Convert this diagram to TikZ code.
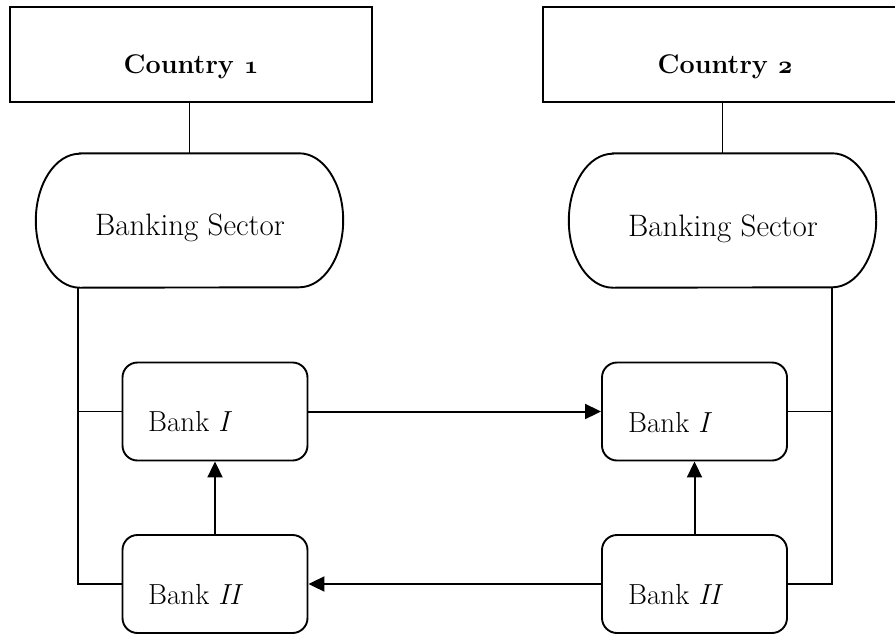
\documentclass[tikz,border=0pt]{standalone}
\usetikzlibrary{arrows.meta}
\newcommand{\osnum}[1]{{\usefont{OML}{cmm}{b}{it}#1}}
\begin{document}
\begin{tikzpicture}[x=1pt,y=-1pt,
  country/.style={draw,line width=2pt,rectangle,inner sep=0pt},
  sectorbox/.style={rectangle,inner sep=0pt,minimum width=307pt,minimum height=134pt},
  bankbox/.style={draw,line width=1.9pt,rectangle,rounded corners=15pt,inner sep=0pt,minimum width=185pt,minimum height=98pt},
  lbl/.style={inner sep=0pt,font=\fontsize{29}{34}\selectfont},
  slbl/.style={inner sep=0pt,font=\fontsize{31}{36}\selectfont},
  clbl/.style={inner sep=0pt,font=\fontsize{27}{32}\selectfont\bfseries},
  link/.style={line width=1.6pt},
  flow/.style={line width=2pt,-{Triangle[length=16pt,width=15pt]}}]
\clip (0,0) rectangle (895,635);
\useasboundingbox (0,0) rectangle (895,635);
% Country boxes
\node[country,minimum width=362pt,minimum height=95pt] (c1) at (191,54.5) {};
\node[country,minimum width=364pt,minimum height=95pt] (c2) at (725,54.5) {};
\node[clbl,anchor=base] (c1t) at (191,73) {Country \osnum{1}};
\node[clbl,anchor=base] (c2t) at (725,73) {Country \osnum{2}};
% Banking sectors
\node[sectorbox] (bs1) at (189.5,220.5) {};
\node[sectorbox] (bs2) at (722.5,220.5) {};
\foreach \s in {bs1,bs2}{
  \draw[line width=1.9pt] ([xshift=44pt]\s.north west) -- ([xshift=-44pt]\s.north east)
    arc[start angle=90,end angle=-90,x radius=44pt,y radius=67pt]
    -- ([xshift=44pt]\s.south west)
    arc[start angle=270,end angle=90,x radius=44pt,y radius=67pt] -- cycle;
}
\node[slbl,anchor=base] (bs1t) at (190,235) {Banking Sector};
\node[slbl,anchor=base] (bs2t) at (723,236) {Banking Sector};
% Banks
\node[bankbox] (b1l) at (215,411.5) {};
\node[bankbox] (b2l) at (215,584) {};
\node[bankbox] (b1r) at (694.5,411.5) {};
\node[bankbox] (b2r) at (694.5,584) {};
\node[lbl,anchor=base west] (b1lt) at (148,431) {Bank \textit{I}};
\node[lbl,anchor=base west] (b2lt) at (148,604) {Bank \textit{II}};
\node[lbl,anchor=base west] (b1rt) at (628,432) {Bank \textit{I}};
\node[lbl,anchor=base west] (b2rt) at (628,604) {Bank \textit{II}};
% Country to sector
\draw[link] (c1.south -| bs1.north) -- (bs1.north);
\draw[link] (bs2.north) -- (bs2.north |- c2.south);
% Sector to banks
\coordinate (l1) at ([xshift=42pt]bs1.south west);
\coordinate (r1) at ([xshift=-44pt]bs2.south east);
\draw[link] (l1) |- (b2l.west);
\draw[link] (b1l.west) -- (b1l.west -| l1);
\draw[link] (r1) |- (b2r.east);
\draw[link] (b1r.east) -- (b1r.east -| r1);
% Flows
\draw[flow] (b2l.north) -- (b1l.south);
\draw[flow] (b2r.north) -- (b1r.south);
\draw[flow] (b1l.east) -- (b1r.west);
\draw[flow] (b2r.west) -- (b2l.east);
\end{tikzpicture}
\end{document}
